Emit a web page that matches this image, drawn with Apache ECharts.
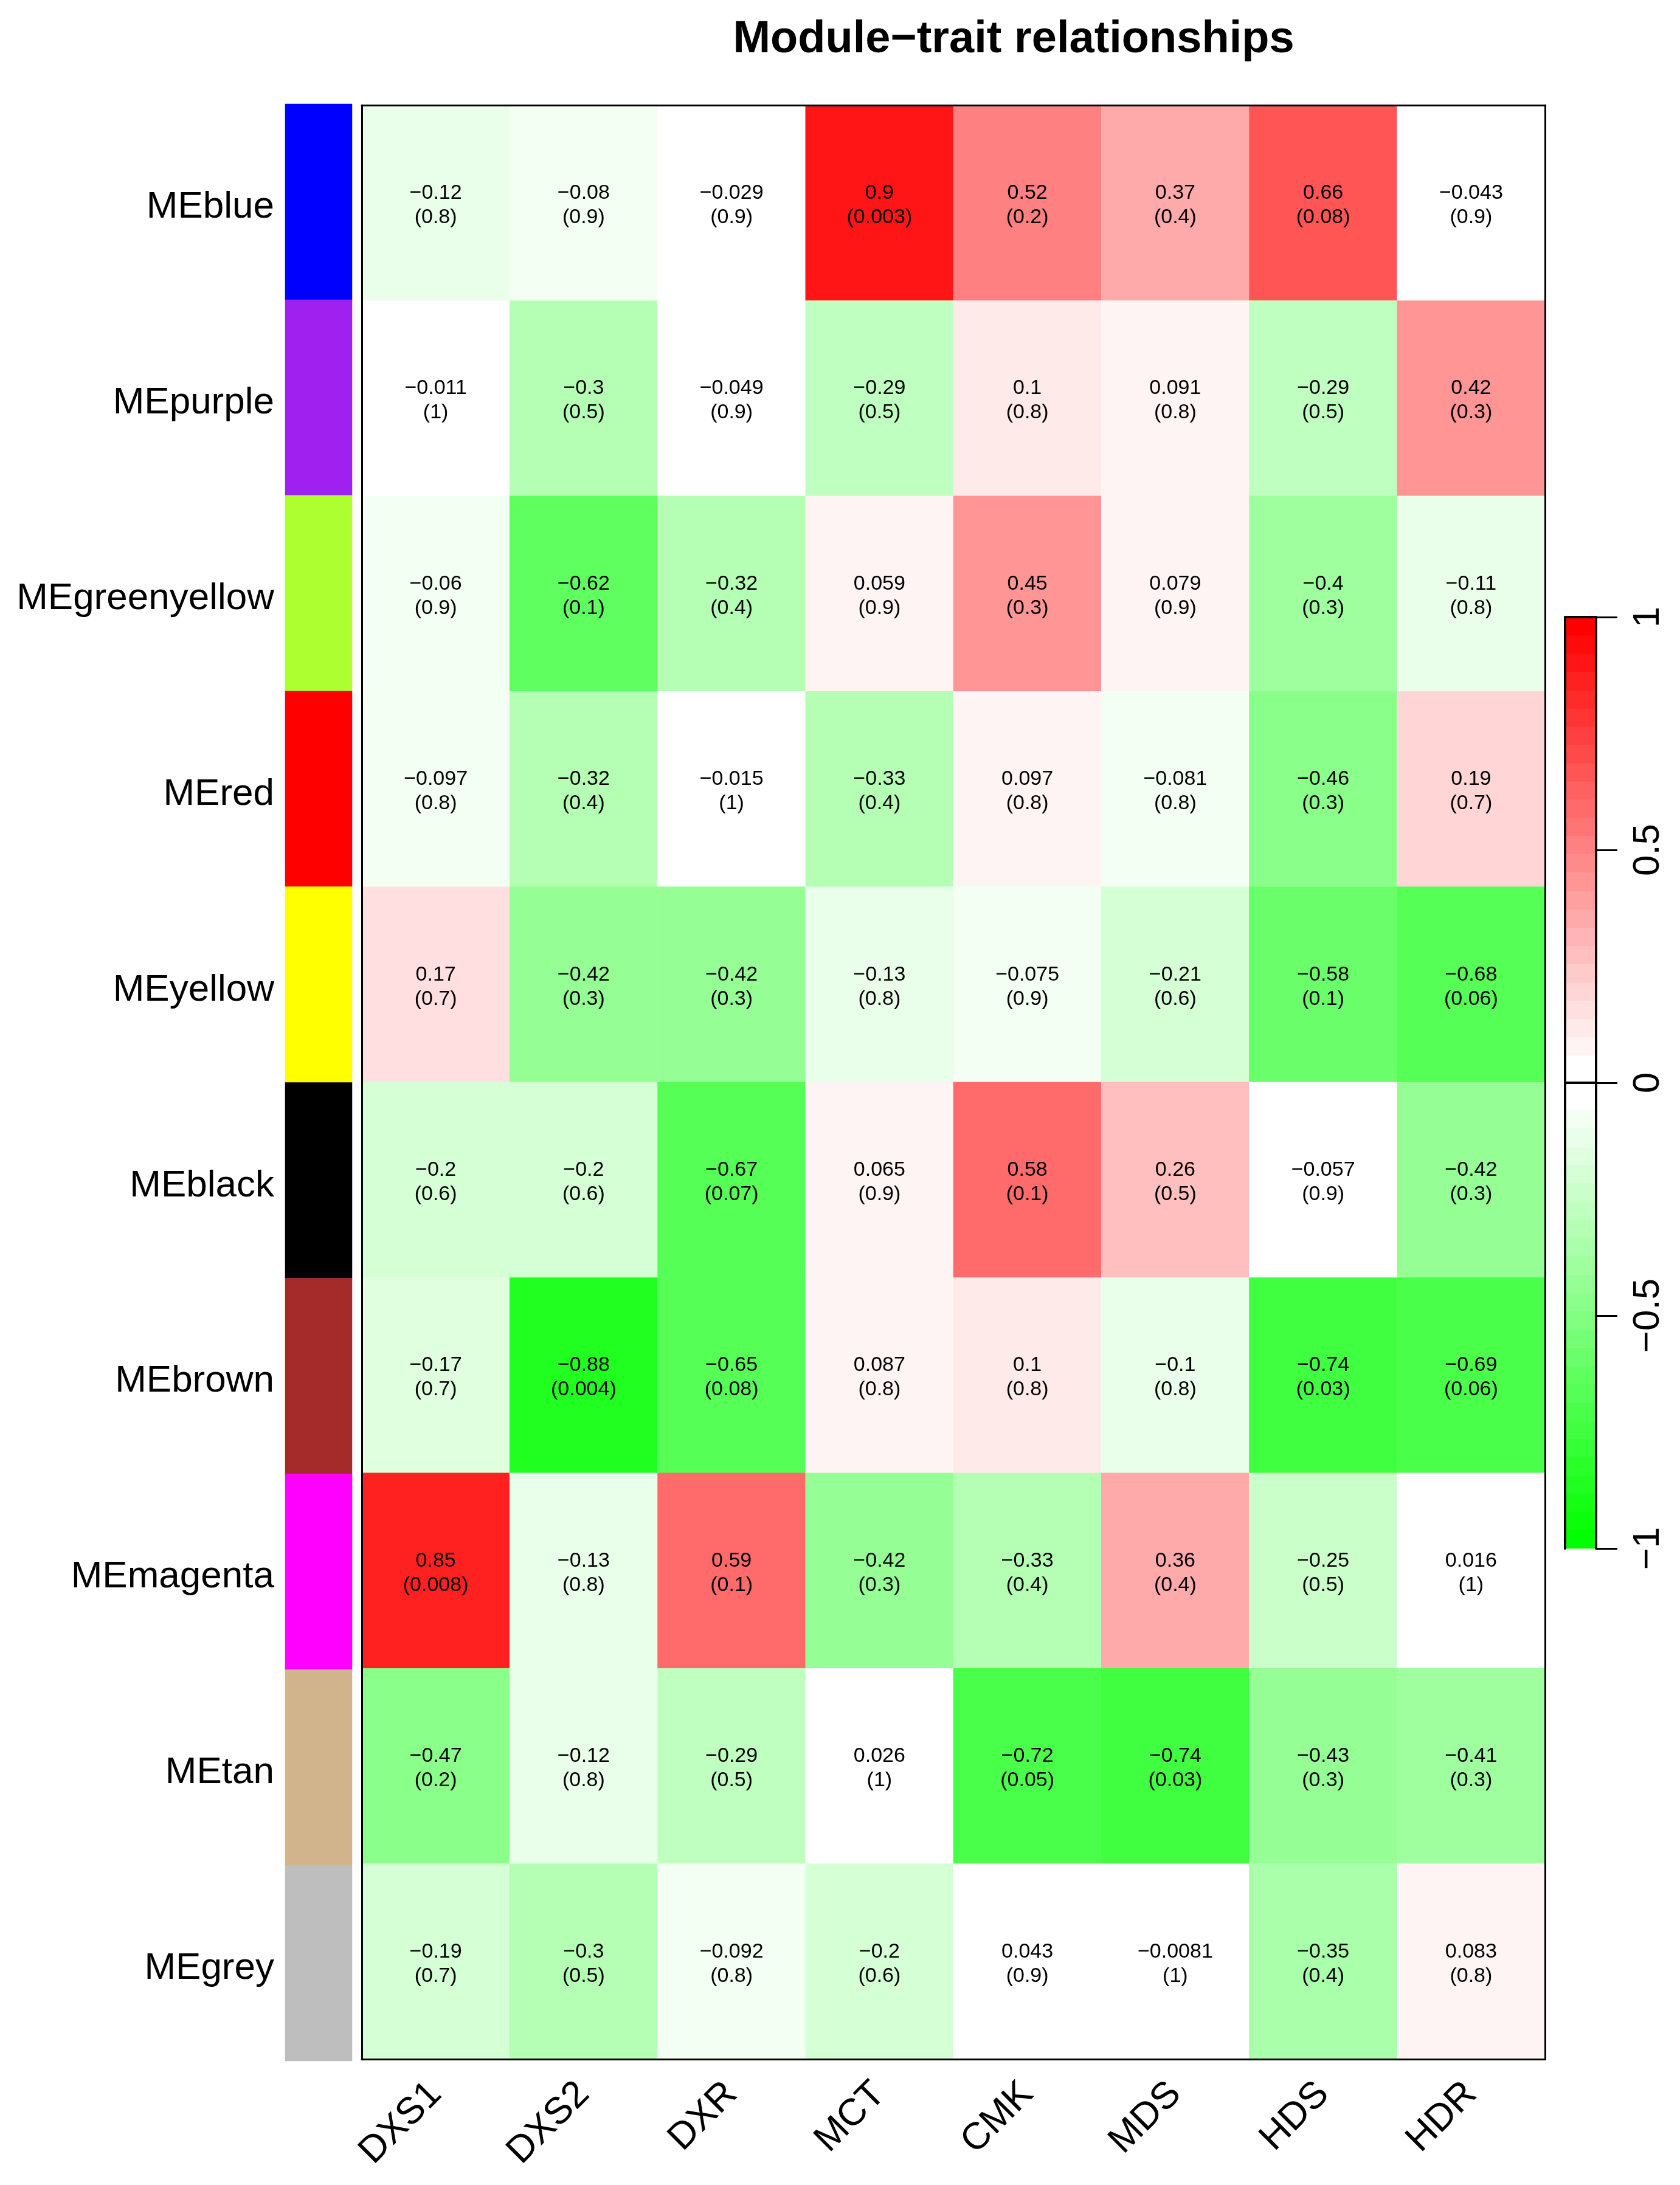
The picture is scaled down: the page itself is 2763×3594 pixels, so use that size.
<!DOCTYPE html>
<html>
<head>
<meta charset="utf-8">
<title>Module-trait relationships</title>
<script src="https://cdn.jsdelivr.net/npm/echarts@6/dist/echarts.min.js"></script>
<style>
  html, body { margin: 0; padding: 0; background: #fff; }
  #chart { width: 2763px; height: 3594px; }
</style>
</head>
<body>
<div id="chart"></div>
<script>
// modules (rows, top to bottom) and their colours
const modules = ['MEblue', 'MEpurple', 'MEgreenyellow', 'MEred', 'MEyellow',
  'MEblack', 'MEbrown', 'MEmagenta', 'MEtan', 'MEgrey'];
const moduleColors = ['#0000FF', '#A020F0', '#ADFF2F', '#FF0000', '#FFFF00',
  '#000000', '#A52A2A', '#FF00FF', '#D2B48C', '#BEBEBE'];

// traits (columns)
const traits = ['DXS1', 'DXS2', 'DXR', 'MCT', 'CMK', 'MDS', 'HDS', 'HDR'];

// correlation per module row
const corr = [
  [-0.12, -0.08, -0.029, 0.9, 0.52, 0.37, 0.66, -0.043],
  [-0.011, -0.3, -0.049, -0.29, 0.1, 0.091, -0.29, 0.42],
  [-0.06, -0.62, -0.32, 0.059, 0.45, 0.079, -0.4, -0.11],
  [-0.097, -0.32, -0.015, -0.33, 0.097, -0.081, -0.46, 0.19],
  [0.17, -0.42, -0.42, -0.13, -0.075, -0.21, -0.58, -0.68],
  [-0.2, -0.2, -0.67, 0.065, 0.58, 0.26, -0.057, -0.42],
  [-0.17, -0.88, -0.65, 0.087, 0.1, -0.1, -0.74, -0.69],
  [0.85, -0.13, 0.59, -0.42, -0.33, 0.36, -0.25, 0.016],
  [-0.47, -0.12, -0.29, 0.026, -0.72, -0.74, -0.43, -0.41],
  [-0.19, -0.3, -0.092, -0.2, 0.043, -0.0081, -0.35, 0.083]
];

// p-values per module row
const pval = [
  [0.8, 0.9, 0.9, 0.003, 0.2, 0.4, 0.08, 0.9],
  [1, 0.5, 0.9, 0.5, 0.8, 0.8, 0.5, 0.3],
  [0.9, 0.1, 0.4, 0.9, 0.3, 0.9, 0.3, 0.8],
  [0.8, 0.4, 1, 0.4, 0.8, 0.8, 0.3, 0.7],
  [0.7, 0.3, 0.3, 0.8, 0.9, 0.6, 0.1, 0.06],
  [0.6, 0.6, 0.07, 0.9, 0.1, 0.5, 0.9, 0.3],
  [0.7, 0.004, 0.08, 0.8, 0.8, 0.8, 0.03, 0.06],
  [0.008, 0.8, 0.1, 0.3, 0.4, 0.4, 0.5, 1],
  [0.2, 0.8, 0.5, 1, 0.05, 0.03, 0.3, 0.3],
  [0.7, 0.5, 0.8, 0.6, 0.9, 1, 0.4, 0.8]
];

// colour bar ticks
const legendTicks = [-1, -0.5, 0, 0.5, 1];

const FONT = '"Liberation Sans", Arial, Helvetica, sans-serif';
const NSTEP = 51;
const HALF = 24;

// green - white - red palette in discrete steps (like greenWhiteRed):
// step 0 full green, steps 24..26 white, step 50 full red
function stepColor(k) {
  let f = 0;
  if (k <= HALF) f = (HALF - k) / HALF;
  else if (k >= NSTEP - 1 - HALF) f = (k - (NSTEP - 1 - HALF)) / HALF;
  const v = Math.round(255 * (1 - f));
  return k < 25 ? `rgb(${v},255,${v})` : `rgb(255,${v},${v})`;
}
const stepW = 2 / NSTEP;
const pieces = [];
const barCats = [];
const barData = [];
for (let k = 0; k < NSTEP; k++) {
  const lo = -1 + k * stepW;
  const p = { gte: lo, color: stepColor(k) };
  if (k < NSTEP - 1) p.lt = lo + stepW; else p.lte = 1;
  pieces.push(p);
  barCats.push(String(k));
  barData.push([0, k, lo + stepW / 2]);
}

const cellData = [];
corr.forEach((row, i) => {
  row.forEach((v, j) => cellData.push([j, i, v]));
});

const stripData = modules.map((m, i) => ({
  value: [0, i, 0],
  itemStyle: { color: moduleColors[i] }
}));

const minus = s => String(s).replace('-', '\u2212');

let myChart = echarts.init(document.getElementById('chart'));
let option = {
  backgroundColor: '#ffffff',
  animation: false,
  textStyle: { fontFamily: FONT },
  title: {
    text: 'Module\u2212trait relationships',
    left: 1662,
    top: 24,
    textAlign: 'center',
    textStyle: { fontSize: 74, fontWeight: 'bold', color: '#000', fontFamily: FONT }
  },
  grid: [
    { left: 595, top: 173, width: 1946, height: 3214 },
    { left: 469, top: 171, width: 110, height: 3219 },
    { left: 2574, top: 1015, width: 51, height: 1532 }
  ],
  visualMap: {
    type: 'piecewise',
    show: false,
    seriesIndex: [0, 2],
    dimension: 2,
    pieces: pieces
  },
  xAxis: [
    {
      gridIndex: 0, type: 'category', data: traits, position: 'bottom', z: 10,
      axisLine: { show: true, lineStyle: { color: '#000', width: 3 } },
      axisTick: { show: false },
      axisLabel: { rotate: 45, fontSize: 62, color: '#000', margin: 48, fontFamily: FONT, interval: 0 },
      splitLine: { show: false }
    },
    {
      gridIndex: 0, type: 'category', data: traits, position: 'top', z: 10,
      axisLine: { show: true, lineStyle: { color: '#000', width: 3 } },
      axisTick: { show: false }, axisLabel: { show: false }
    },
    {
      gridIndex: 1, type: 'category', data: [''], show: false
    },
    {
      gridIndex: 2, type: 'category', data: [''], position: 'bottom', z: 10,
      axisLine: { show: true, lineStyle: { color: '#000', width: 4 } },
      axisTick: { show: false }, axisLabel: { show: false }
    },
    {
      gridIndex: 2, type: 'category', data: [''], position: 'top', z: 10,
      axisLine: { show: true, lineStyle: { color: '#000', width: 4 } },
      axisTick: { show: false }, axisLabel: { show: false }
    }
  ],
  yAxis: [
    {
      gridIndex: 0, type: 'category', data: modules, inverse: true, position: 'left', z: 10,
      axisLine: { show: true, lineStyle: { color: '#000', width: 3 } },
      axisTick: { show: false }, axisLabel: { show: false }
    },
    {
      gridIndex: 0, type: 'value', min: 0, max: 1, position: 'right', z: 10,
      axisLine: { show: true, lineStyle: { color: '#000', width: 3 } },
      axisTick: { show: false }, axisLabel: { show: false }, splitLine: { show: false }
    },
    {
      gridIndex: 1, type: 'category', data: modules, inverse: true, position: 'left',
      axisLine: { show: false }, axisTick: { show: false },
      axisLabel: {
        margin: 18,
        formatter: v => '{m|' + v + '}',
        rich: { m: { fontSize: 62, color: '#000', fontFamily: FONT, padding: [18, 0, 0, 0] } }
      }
    },
    {
      gridIndex: 2, type: 'category', data: barCats, position: 'left', z: 10,
      axisLine: { show: true, lineStyle: { color: '#000', width: 4 } },
      axisTick: { show: false }, axisLabel: { show: false }
    },
    {
      gridIndex: 2, type: 'value', min: -1, max: 1, interval: 0.5, position: 'right', z: 10,
      axisLine: { show: true, lineStyle: { color: '#000', width: 4 } },
      axisTick: { show: true, length: 35, lineStyle: { color: '#000', width: 3 } },
      axisLabel: {
        rotate: 90, fontSize: 62, color: '#000', margin: 55, fontFamily: FONT,
        formatter: v => legendTicks.indexOf(v) >= 0 ? minus(v) : ''
      },
      splitLine: { show: false }
    }
  ],
  series: [
    {
      name: 'correlation',
      type: 'heatmap',
      xAxisIndex: 0,
      yAxisIndex: 0,
      data: cellData,
      label: {
        show: true,
        formatter: p => '{c|' + minus(p.value[2]) + '\n(' + pval[p.value[1]][p.value[0]] + ')}',
        rich: { c: { color: '#000', fontSize: 34, lineHeight: 40, fontFamily: FONT, padding: [8, 0, 0, 0] } }
      },
      emphasis: { disabled: true }
    },
    {
      name: 'modules',
      type: 'heatmap',
      xAxisIndex: 2,
      yAxisIndex: 2,
      data: stripData,
      emphasis: { disabled: true }
    },
    {
      name: 'legend',
      type: 'heatmap',
      xAxisIndex: 3,
      yAxisIndex: 3,
      data: barData,
      emphasis: { disabled: true }
    }
  ]
};
myChart.setOption(option);
</script>
</body>
</html>
